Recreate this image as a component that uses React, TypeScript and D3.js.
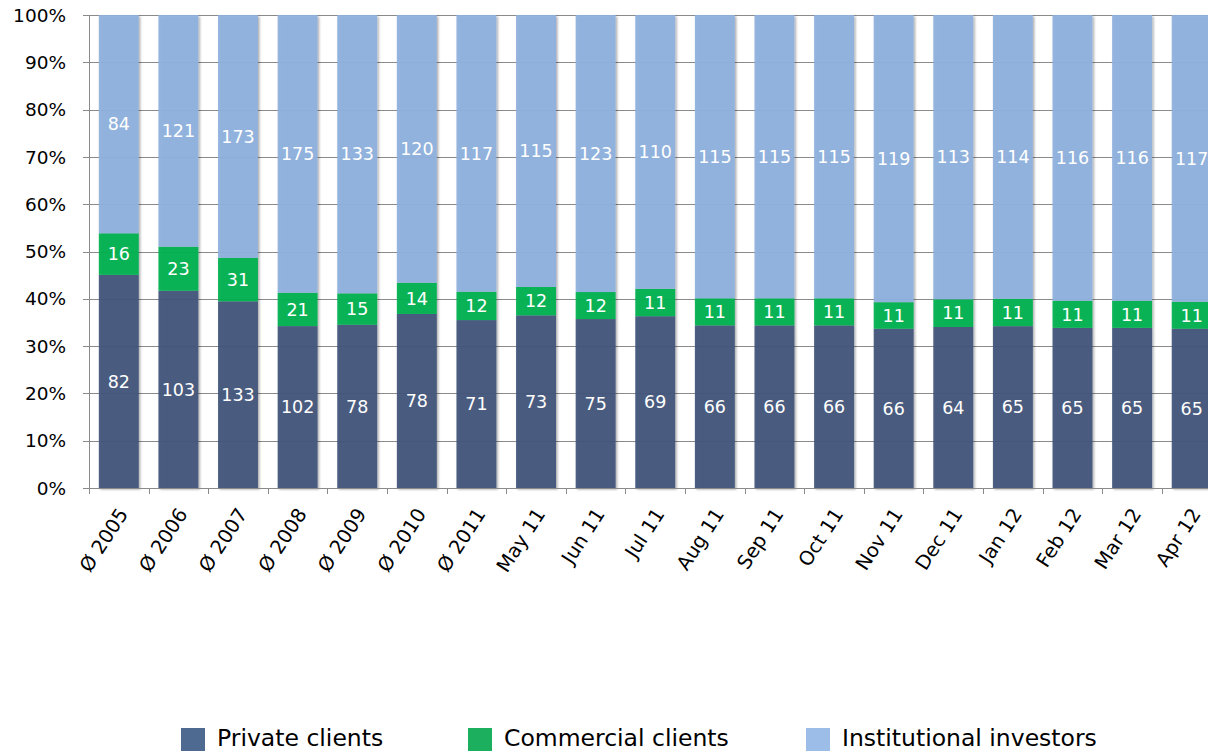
import React from "react";
import * as d3 from "d3";

const categories = ["Ø 2005", "Ø 2006", "Ø 2007", "Ø 2008", "Ø 2009", "Ø 2010", "Ø 2011", "May 11", "Jun 11", "Jul 11", "Aug 11", "Sep 11", "Oct 11", "Nov 11", "Dec 11", "Jan 12", "Feb 12", "Mar 12", "Apr 12"];
const privateClients = [82, 103, 133, 102, 78, 78, 71, 73, 75, 69, 66, 66, 66, 66, 64, 65, 65, 65, 65];
const commercialClients = [16, 23, 31, 21, 15, 14, 12, 12, 12, 11, 11, 11, 11, 11, 11, 11, 11, 11, 11];
const institutionalInvestors = [84, 121, 173, 175, 133, 120, 117, 115, 123, 110, 115, 115, 115, 119, 113, 114, 116, 116, 117];
const seriesNames = ["Private clients", "Commercial clients", "Institutional investors"];
const yTicks = [0, 0.1, 0.2, 0.3, 0.4, 0.5, 0.6, 0.7, 0.8, 0.9, 1.0];

const barColors = ["#41567a", "#00b050", "#8eb0dd"];
const legendColors = ["#4e6a90", "#1cb05e", "#9bbde7"];

export default function App() {
  const W = 1208, H = 753;
  const left = 89, top = 15, bottom = 488;
  const x = d3.scaleBand<string>().domain(categories).range([left, 1221.5]).paddingInner(0.33).paddingOuter(0.165);
  const y = d3.scaleLinear().domain([0, 1]).range([bottom, top]);
  const step = x.step();
  const x0 = left;

  const rows = categories.map((c, i) => ({ cat: c, p: privateClients[i], c: commercialClients[i], n: institutionalInvestors[i] }));
  const stack = d3.stack<any>().keys(["p", "c", "n"]).offset(d3.stackOffsetExpand)(rows);
  const font = "'DejaVu Sans', Verdana, sans-serif";

  return (
    <svg width={W} height={H} style={{ position: "absolute", left: 0, top: 0, background: "#fff" }} fontFamily={font}>
      <defs>
        <filter id="sh" x="-20%" y="-5%" width="140%" height="110%">
          <feDropShadow dx="1.5" dy="1.5" stdDeviation="1.2" floodColor="#000" floodOpacity="0.35" />
        </filter>
      </defs>
      {/* gridlines */}
      {yTicks.map((t) => (
        <line key={"g" + t} x1={left} x2={W} y1={Math.round(y(t)) + 0.5} y2={Math.round(y(t)) + 0.5} stroke="#8a8a8a" strokeWidth={1} />
      ))}
      {/* bars */}
      {categories.map((c, i) => (
        <g key={c} filter="url(#sh)">
          {stack.map((s, k) => {
            const d = s[i];
            return (
              <rect key={k} x={x(c)} width={x.bandwidth()} y={y(d[1])} height={y(d[0]) - y(d[1])} fill={barColors[k]} fillOpacity={0.94} />
            );
          })}
        </g>
      ))}
      {/* labels */}
      {categories.map((c, i) =>
        stack.map((s, k) => {
          const d = s[i];
          const v = [privateClients, commercialClients, institutionalInvestors][k][i];
          return (
            <text key={c + k} x={(x(c) as number) + x.bandwidth() / 2} y={y((d[0] + d[1]) / 2)} dy="0.36em" textAnchor="middle" fill="#fff" fontSize={17.5}>
              {v}
            </text>
          );
        })
      )}
      {/* y axis */}
      <line x1={left + 0.5} x2={left + 0.5} y1={top} y2={bottom} stroke="#8a8a8a" />
      {yTicks.map((t) => (
        <g key={"t" + t}>
          <line x1={left - 6} x2={left} y1={Math.round(y(t)) + 0.5} y2={Math.round(y(t)) + 0.5} stroke="#8a8a8a" />
          <text x={66} y={y(t)} dy="0.36em" textAnchor="end" fontSize={18.5} fill="#000">
            {d3.format(".0%")(t)}
          </text>
        </g>
      ))}
      {/* x axis */}
      <line x1={left} x2={W} y1={bottom + 0.5} y2={bottom + 0.5} stroke="#8a8a8a" />
      {d3.range(categories.length + 1).map((i) => (
        <line key={"xt" + i} x1={Math.round(x0 + i * step) + 0.5} x2={Math.round(x0 + i * step) + 0.5} y1={bottom} y2={bottom + 6} stroke="#8a8a8a" />
      ))}
      {categories.map((c) => {
        const cx = (x(c) as number) + x.bandwidth() / 2 + 4;
        return (
          <text key={"xl" + c} transform={`translate(${cx},${bottom + 22}) rotate(-57)`} textAnchor="end" dy="0.36em" fontSize={19.5} fill="#000">
            {c}
          </text>
        );
      })}
      {/* legend */}
      {seriesNames.map((n, k) => {
        const lx = [181, 468, 806][k];
        return (
          <g key={n}>
            <rect x={lx} y={728} width={24} height={23} fill={legendColors[k]} />
            <text x={lx + 36} y={746} fontSize={23.5} fill="#000">
              {n}
            </text>
          </g>
        );
      })}
    </svg>
  );
}
